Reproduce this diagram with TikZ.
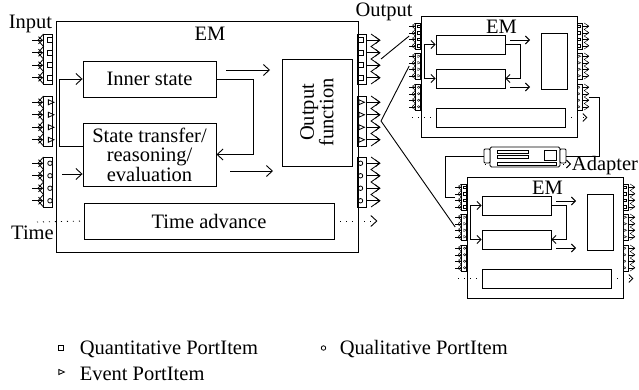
\documentclass[tikz,border=0pt]{standalone}
\usepackage{fontspec}
\setmainfont{Liberation Serif}
\usetikzlibrary{arrows.meta,shapes.geometric,positioning}

\tikzset{
  box/.style={draw, rectangle, inner sep=0pt},
  pgroup/.style={draw, rectangle, minimum width=9, minimum height=50, inner sep=0pt},
  qnt/.style={draw, rectangle, minimum size=5, inner sep=0pt},
  evt/.style={draw, isosceles triangle, isosceles triangle stretches,
    minimum width=5, minimum height=5.5, inner sep=0pt},
  qlt/.style={draw, circle, minimum size=4.5, inner sep=0pt},
  tick/.style={dash pattern=on 1pt off 5pt},
  lbl/.style={font=\fontsize{20.5}{19.5}\selectfont},
}

% group of four input ports: name, centre, symbol style, scale
\newcommand{\inports}[4]{%
  \begin{scope}[shift={#2}, scale=#4, transform shape, line width=#4*0.8pt,
      >={Straight Barb[length=4pt,width=7pt,scale=#4]}]
    \node[pgroup] (#1) at (0,0) {};
    \foreach \k/\r in {1/-18.75,2/-6.25,3/6.25,4/18.75} {
      \node[#3] (#1-\k) at (2,\r) {};
      \coordinate (#1-s\k) at (-16,\r);
      \draw[->] (#1-s\k) -- (#1.west |- #1-\k);
    }
    \draw (-4.5,-25) -- (-10,-18.75) -- (-4.5,-12.5) -- (-10,-6.25) -- (-4.5,0)
      -- (-10,6.25) -- (-4.5,12.5) -- (-10,18.75) -- (-4.5,25);
    \coordinate (#1-e) at (-16,0);
  \end{scope}}

% group of four output ports
\newcommand{\outports}[4]{%
  \begin{scope}[shift={#2}, scale=#4, transform shape, line width=#4*0.8pt,
      >={Straight Barb[length=4pt,width=7pt,scale=#4]}]
    \node[pgroup] (#1) at (0,0) {};
    \foreach \k/\r in {1/-18.75,2/-6.25,3/6.25,4/18.75} {
      \node[#3] (#1-\k) at (-1.5,\r) {};
      \coordinate (#1-s\k) at (18,\r);
      \draw[->] (#1.east |- #1-\k) -- (#1-s\k);
    }
    \draw (9,-25) -- (18,-18.75) -- (9,-12.5) -- (18,-6.25) -- (9,0)
      -- (18,6.25) -- (9,12.5) -- (18,18.75) -- (9,25);
    \coordinate (#1-e) at (19,0);
  \end{scope}}

\begin{document}
\begin{tikzpicture}[x=1pt, y=-1pt, line width=0.9pt,
    >={Straight Barb[length=6pt,width=11pt]}]
  \useasboundingbox (0,0) rectangle (639,389);

  % main EM
  \node[box, minimum width=302, minimum height=231] (em) at (207,136.5) {};
  \node[lbl, anchor=base] (emlbl)   at (210,40)   {EM};
  \node[lbl, anchor=base] (inlbl)   at (30.5,28)  {Input};
  \node[lbl, anchor=base] (outlbl)  at (384,16)   {Output};
  \node[lbl, anchor=base] (timelbl) at (32.5,239) {Time};

  \node[box, lbl, minimum width=133, minimum height=36] (inner) at (149.5,79) {Inner state};
  \node[box, lbl, align=center, minimum width=133, minimum height=63] (trans)
    at (149.5,154.5) {State transfer/\\reasoning/\\evaluation};
  \node[box, lbl, minimum width=250, minimum height=36] (tadv) at (209,221) {Time advance};
  \node[box, minimum width=70, minimum height=107] (outf) at (317,112.5) {};
  \node[lbl, rotate=90, align=center] (outft) at (outf.center) {Output\\function};

  \draw[->] ([yshift=8.5pt]trans.west) -- ++(-23,0) |- (inner.west);
  \draw[->] (inner.east) -- ++(37,0) |- (trans.east);
  \coordinate (f1a) at (226,70);  \coordinate (f1b) at (270,70);
  \coordinate (f2a) at (230,171); \coordinate (f2b) at (273,171);
  \coordinate (f3a) at (62,174);
  \draw[->] (f1a) -- (f1b);
  \draw[->] (f2a) -- (f2b);
  \draw[->] (f3a) -- (trans.west |- f3a);
  \coordinate (tl) at (37,222);
  \draw[tick] (tl) -- (tadv.west);
  \draw[tick, ->] (tadv.east) -- ++(43,0);

  \inports{m-qnin}{(48,59)}{qnt}{1}
  \inports{m-evin}{(48,121)}{evt}{1}
  \inports{m-qlin}{(48,182)}{qlt}{1}
  \outports{m-qnout}{(362,59)}{qnt}{1}
  \outports{m-evout}{(362,121)}{evt}{1}
  \outports{m-qlout}{(362,182)}{qlt}{1}

  % small EMs
  \foreach \p/\dx/\dy in {t/421/16, b/467/177} {
    \begin{scope}[shift={(\dx,\dy)}, >={Straight Barb[length=4pt,width=8pt]}]
      \node[box, minimum width=156, minimum height=121] (\p-em) at (78,60.5) {};
      \node[lbl, anchor=base] (\p-lbl) at (80.5,17) {EM};
      \node[box, minimum width=69, minimum height=19] (\p-b1) at (49.5,28.5) {};
      \node[box, minimum width=69, minimum height=19] (\p-b2) at (49.5,62.5) {};
      \node[box, minimum width=26, minimum height=56] (\p-b3) at (133,45) {};
      \node[box, minimum width=129, minimum height=19] (\p-b4) at (79.5,101.5) {};
      \draw[<->] (\p-b1.west) -- ++(-11,0) |- (\p-b2.west);
      \draw[->] (\p-b1.east) -- ++(15,0) |- (\p-b2.east);
      \coordinate (\p-f1a) at (89,24); \coordinate (\p-f1b) at (109,24);
      \coordinate (\p-f2a) at (89,71); \coordinate (\p-f2b) at (109,71);
      \draw[->] (\p-f1a) -- (\p-f1b);
      \draw[->] (\p-f2a) -- (\p-f2b);
      \coordinate (\p-tl) at (-9,101.5);
      \draw[tick] (\p-tl) -- (\p-b4.west);
      \draw[tick, ->] (\p-b4.east) -- ++(22,0);
      \inports{\p-qnin}{(-3.5,20)}{qnt}{0.52}
      \inports{\p-evin}{(-3.5,50)}{evt}{0.52}
      \inports{\p-qlin}{(-3.5,81)}{qlt}{0.52}
      \outports{\p-qnout}{(158.5,20)}{qnt}{0.52}
      \outports{\p-evout}{(158.5,50)}{evt}{0.52}
      \outports{\p-qlout}{(158.5,81)}{qlt}{0.52}
    \end{scope}
  }

  % adapter
  \coordinate (adtl) at (485,164); \coordinate (adtr) at (571,164);
  \draw[tick, ->, >={Straight Barb[length=4pt,width=8pt]}] (adtl) -- (adtr);
  \node[box, fill=white, rounded corners=1.5, minimum width=70, minimum height=20] (adapter) at (525,157) {};
  \node[box, fill=white, rounded corners=1, minimum width=6, minimum height=14] (adL) at (487,156) {};
  \node[box, fill=white, rounded corners=1, minimum width=6, minimum height=14] (adR) at (563,156) {};
  \node[box, line width=0.7pt, minimum width=31, minimum height=3.3] (adb1) at (512.5,151.7) {};
  \node[box, line width=0.7pt, minimum width=31, minimum height=3.3] (adb2) at (512.5,156.7) {};
  \node[box, line width=0.7pt, minimum width=12, minimum height=10] (adsq) at (550,155) {};
  \node[box, line width=0.7pt, minimum width=59, minimum height=3] (adb3) at (526.5,163.5) {};
  \node[lbl, anchor=base] (adlbl) at (605,170) {Adapter};

  % links
  \draw (m-qnout-e) -- (t-qnin-e);
  \draw (m-evout-e) -- (t-evin-e);
  \draw (m-evout-e) -- (b-evin-e);
  \draw (t-qlout-e) -- ++(10,0) |- (adR.east);
  \draw (adL.west) -- ++(-38,0) |- (b-qnin-e);

  % legend
  \node[qnt, line width=0.8pt] (lgq) at (60.5,348) {};
  \node[lbl, anchor=base west] (lgqt) at (76,354) {Quantitative PortItem};
  \node[evt, line width=0.8pt] (lge) at (60.5,372) {};
  \node[lbl, anchor=base west] (lget) at (76,380) {Event PortItem};
  \node[qlt, line width=0.8pt] (lgl) at (323.5,348) {};
  \node[lbl, anchor=base west] (lglt) at (336,354) {Qualitative PortItem};
\end{tikzpicture}
\end{document}
